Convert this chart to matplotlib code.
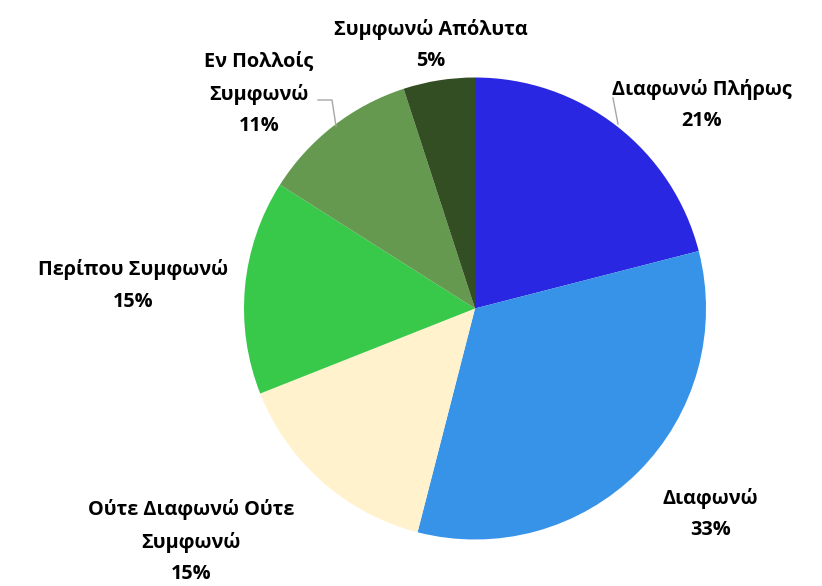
import matplotlib.pyplot as plt

labels = ["Διαφωνώ Πλήρως", "Διαφωνώ", "Ούτε Διαφωνώ Ούτε\nΣυμφωνώ",
          "Περίπου Συμφωνώ", "Εν Πολλοίς\nΣυμφωνώ", "Συμφωνώ Απόλυτα"]
percent = [21, 33, 15, 15, 11, 5]
colors = ["#2a27e3", "#3693e8", "#fff2cc", "#38c94a", "#65994f", "#344e23"]

# label placement relative to pie centre (radius = 1)
label_pos = [(0.98, 0.88), (1.02, -0.89), (-1.23, -1.01),
             (-1.48, 0.10), (-0.935, 0.93), (-0.19, 1.14)]

W, H = 822, 586
R = 231.0
cx, cy = 475.0, 308.5

fig = plt.figure(figsize=(W / 100, H / 100), dpi=100)
ax = fig.add_axes([0, 0, 1, 1])

wedges, _ = ax.pie(percent, colors=colors, startangle=90, counterclock=False,
                   radius=1, wedgeprops=dict(linewidth=0))

for lab, p, (x, y) in zip(labels, percent, label_pos):
    ax.text(x, y, f"{lab}\n{p}%", ha="center", va="center",
            fontsize=14.3, fontweight="bold", family="Open Sans",
            linespacing=1.75, color="black")

# leader lines
ax.plot([(613 - cx) / R, (618 - cx) / R], [(cy - 98) / R, (cy - 124) / R],
        color="#a6a6a6", lw=1)
ax.plot([(318 - cx) / R, (332 - cx) / R, (336 - cx) / R],
        [(cy - 100) / R, (cy - 100) / R, (cy - 126) / R],
        color="#a6a6a6", lw=1)

ax.set_xlim(-cx / R, (W - cx) / R)
ax.set_ylim((cy - H) / R, cy / R)
ax.set_aspect("auto")
ax.axis("off")

fig.savefig("out.png", dpi=100)
